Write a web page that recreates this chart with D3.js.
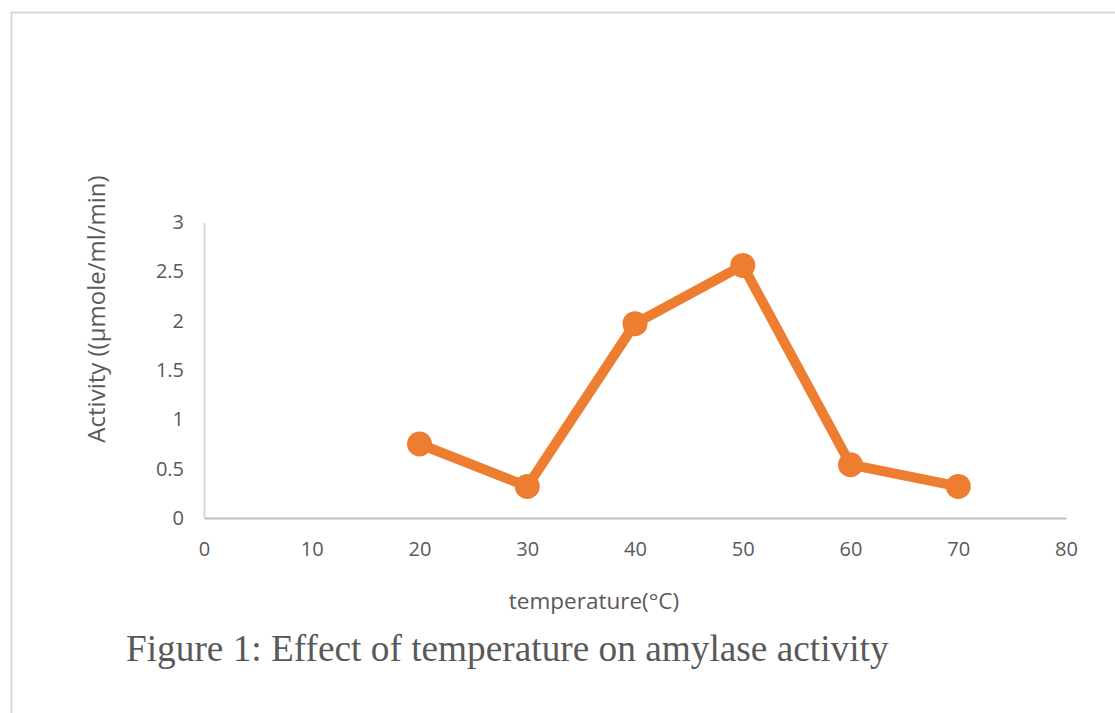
<!DOCTYPE html>
<html>
<head>
<meta charset="utf-8">
<script src="https://cdn.jsdelivr.net/npm/d3@7"></script>
<style>
  body { margin: 0; background: #fff; }
  svg { display: block; }
</style>
</head>
<body>
<div id="chart"></div>
<script>
// data
const temperatures = [20, 30, 40, 50, 60, 70];
const activity = [0.75, 0.32, 1.97, 2.56, 0.54, 0.32];
const xTicks = [0, 10, 20, 30, 40, 50, 60, 70, 80];
const yTicks = [0, 0.5, 1, 1.5, 2, 2.5, 3];

const width = 1115, height = 713;
const plot = { left: 204, right: 1066, top: 222, bottom: 518 };

let svg = d3.select("#chart").append("svg")
    .attr("width", width)
    .attr("height", height);

// frame of the embedded chart
svg.append("path")
    .attr("d", `M11.5,${height} V12.5 H${width}`)
    .attr("fill", "none")
    .attr("stroke", "#d9d9d9")
    .attr("stroke-width", 2);

let x = d3.scaleLinear().domain([0, 80]).range([plot.left, plot.right]);
let y = d3.scaleLinear().domain([0, 3]).range([plot.bottom, plot.top]);

const labelFont = "'Open Sans', sans-serif";

// x axis
let xAxis = svg.append("g")
    .attr("transform", `translate(0,${plot.bottom})`)
    .call(d3.axisBottom(x).tickValues(xTicks).tickSize(0).tickPadding(24).tickFormat(d3.format("d")));
xAxis.select(".domain").attr("stroke", "#bfbfbf").attr("stroke-width", 2);
xAxis.selectAll("text")
    .attr("fill", "#595959")
    .style("font-family", labelFont)
    .style("font-size", "20px");

// y axis
let yAxis = svg.append("g")
    .attr("transform", `translate(${plot.left},0)`)
    .call(d3.axisLeft(y).tickValues(yTicks).tickSize(0).tickPadding(20).tickFormat(d => d));
yAxis.select(".domain").attr("stroke", "#d9d9d9").attr("stroke-width", 2);
yAxis.selectAll("text")
    .attr("fill", "#595959")
    .style("font-family", labelFont)
    .style("font-size", "20px");

// axis titles
svg.append("text")
    .attr("x", 594)
    .attr("y", 609)
    .attr("text-anchor", "middle")
    .attr("fill", "#595959")
    .style("font-family", labelFont)
    .style("font-size", "22.5px")
    .text("temperature(°C)");

svg.append("text")
    .attr("transform", "translate(105,309) rotate(-90)")
    .attr("text-anchor", "middle")
    .attr("fill", "#595959")
    .style("font-family", labelFont)
    .style("font-size", "24px")
    .text("Activity ((µmole/ml/min)");

// series
let points = temperatures.map((t, i) => ({ t: t, v: activity[i] }));

svg.append("path")
    .datum(points)
    .attr("fill", "none")
    .attr("stroke", "#ed7d31")
    .attr("stroke-width", 10)
    .attr("stroke-linejoin", "round")
    .attr("d", d3.line().x(d => x(d.t)).y(d => y(d.v)));

svg.selectAll("circle.pt")
    .data(points)
    .enter()
    .append("circle")
    .attr("class", "pt")
    .attr("cx", d => x(d.t))
    .attr("cy", d => y(d.v))
    .attr("r", 12.5)
    .attr("fill", "#ed7d31");

// figure caption
svg.append("text")
    .attr("x", 126)
    .attr("y", 661)
    .attr("fill", "#595959")
    .style("font-family", "'Liberation Serif', 'Times New Roman', serif")
    .style("font-size", "37.3px")
    .text("Figure 1: Effect of temperature on amylase activity");
</script>
</body>
</html>
